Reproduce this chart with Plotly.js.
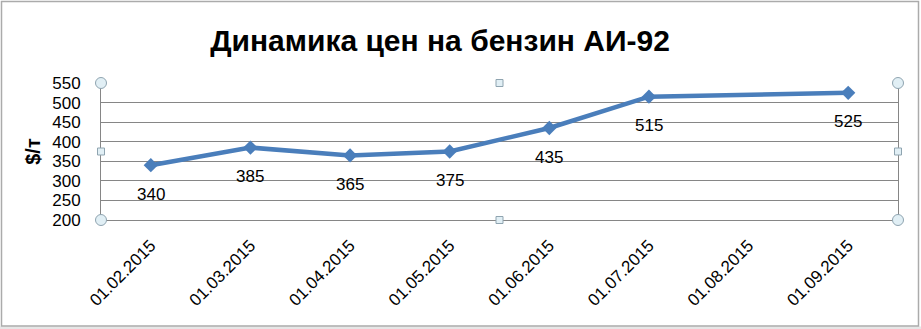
<!DOCTYPE html>
<html>
<head>
<meta charset="utf-8">
<script src="https://cdn.plot.ly/plotly-3.0.1.min.js"></script>
<style>html,body{margin:0;padding:0;background:#fff;}#chart{width:921px;height:329px;}</style>
</head>
<body>
<div id="chart"></div>
<script>
var categories = ['01.02.2015','01.03.2015','01.04.2015','01.05.2015','01.06.2015','01.07.2015','01.08.2015','01.09.2015'];
var prices = [340, 385, 365, 375, 435, 515, null, 525];
var yTicks = [200, 250, 300, 350, 400, 450, 500, 550];

var lineColor = '#4A7EBB';
var font = 'Liberation Sans, Arial, sans-serif';

var trace = {
  x: categories, y: prices, type: 'scatter', mode: 'lines+markers',
  connectgaps: true,
  line: {color: lineColor, width: 4.5},
  marker: {symbol: 'diamond', size: 11, color: lineColor},
  hoverinfo: 'x+y'
};

var annotations = [];
for (var i = 0; i < categories.length; i++) {
  if (prices[i] === null) continue;
  annotations.push({x: categories[i], y: prices[i], xref: 'x', yref: 'y', text: String(prices[i]),
    showarrow: false, yshift: -29, font: {family: font, size: 17, color: '#000'}});
}

// plot area in pixels: x 101..898, y 83..220
function px(x){ return (x - 101) / 797; }
function py(y){ return (220 - y) / 137; }
var hFill = '#E1EFF5', hLine = '#8FA4B0';
var shapes = [
  {type:'rect', xref:'paper', yref:'paper', x0:px(-5), x1:px(930), y0:py(326.5), y1:py(335), fillcolor:'#E6E6E6', line:{width:0}, layer:'below'},
  {type:'rect', xref:'paper', yref:'paper', x0:px(1.5), x1:px(918.5), y0:py(326), y1:py(1.5), line:{color:'#ABABAB', width:1.5}, fillcolor:'rgba(0,0,0,0)', layer:'below'}
];
function circ(x, y){ shapes.push({type:'circle', xref:'paper', yref:'paper', xsizemode:'pixel', ysizemode:'pixel', xanchor:x, yanchor:y, x0:-5.5, x1:5.5, y0:-5.5, y1:5.5, fillcolor:hFill, line:{color:hLine, width:1}}); }
function sq(x, y){ shapes.push({type:'rect', xref:'paper', yref:'paper', xsizemode:'pixel', ysizemode:'pixel', xanchor:x, yanchor:y, x0:-3.5, x1:3.5, y0:-3.5, y1:3.5, fillcolor:hFill, line:{color:hLine, width:1}}); }
circ(0,0); circ(1,0); circ(0,1); circ(1,1);
sq(0.5,0); sq(0.5,1); sq(0,0.5); sq(1,0.5);

var layout = {
  width: 921, height: 329,
  margin: {l: 101, r: 23, t: 83, b: 109},
  paper_bgcolor: '#fff', plot_bgcolor: '#fff',
  showlegend: false,
  title: {text: '<b>Динамика цен на бензин АИ-92</b>', x: 440/921, xanchor: 'center', y: 1 - 40/329, yanchor: 'middle',
    font: {family: font, size: 30, color: '#000'}},
  xaxis: {type: 'category', categoryarray: categories, categoryorder: 'array', range: [-0.5, 7.5],
    tickangle: -45, tickfont: {family: font, size: 17, color: '#000'},
    showgrid: false, showline: true, linecolor: '#868686', linewidth: 1, ticks: '', ticklabelstandoff: 8,
    zeroline: false, fixedrange: true},
  yaxis: {range: [200, 550], tickvals: yTicks, ticktext: yTicks.map(String),
    tickfont: {family: font, size: 17, color: '#000'},
    showgrid: true, gridcolor: '#868686', gridwidth: 1,
    showline: true, mirror: true, linecolor: '#868686', linewidth: 1, ticks: '', ticklabelstandoff: 16,
    zeroline: false, fixedrange: true,
    title: {text: '<b>$/т</b>', font: {family: font, size: 20, color: '#000'}, standoff: 6}},
  annotations: annotations,
  shapes: shapes
};

Plotly.newPlot('chart', [trace], layout, {displayModeBar: false, staticPlot: true});
</script>
</body>
</html>
